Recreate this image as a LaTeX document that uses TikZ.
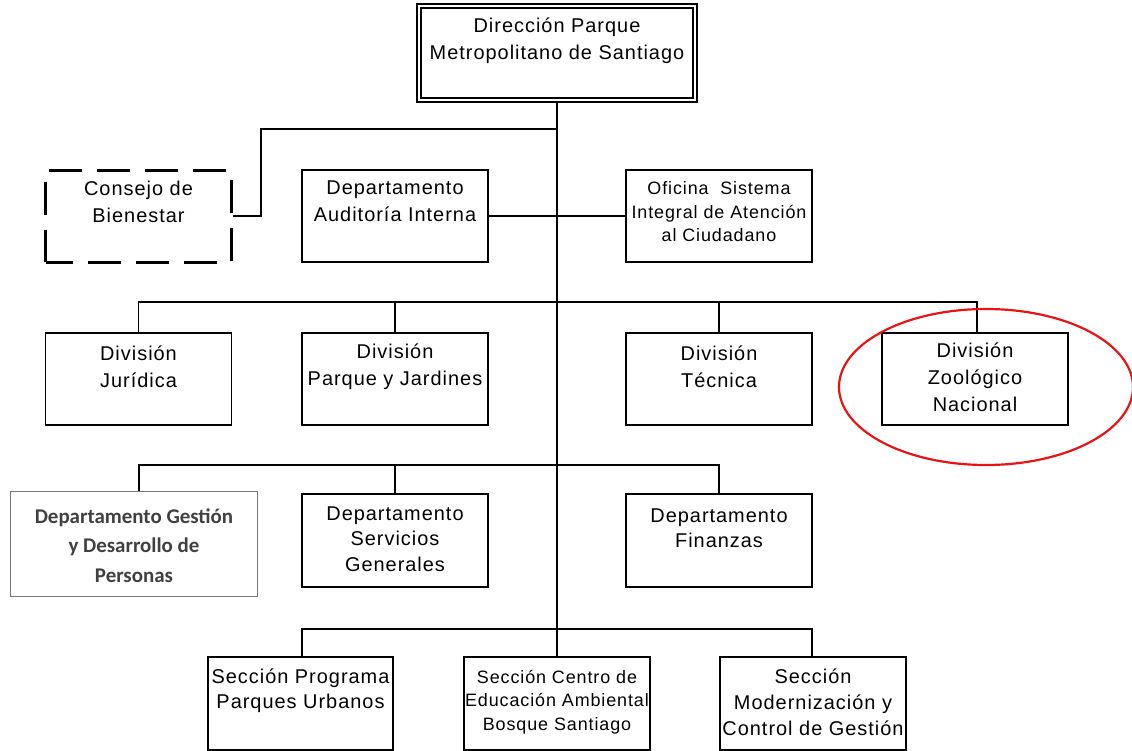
\documentclass[tikz,border=0pt]{standalone}
\usepackage{fontspec}
\setmainfont{Liberation Sans}[LetterSpace=5]
\newfontfamily\carlito{Carlito}
\definecolor{ringred}{RGB}{230,20,20}
\definecolor{gtxt}{RGB}{64,64,64}
\definecolor{gline}{RGB}{120,120,120}
\begin{document}
\begin{tikzpicture}[x=1bp,y=-1bp,
  box/.style={draw, line width=1.3bp, inner sep=0pt, minimum width=186bp, minimum height=92bp},
  dbox/.style={draw, line width=3bp, dash pattern=on 33bp off 15bp, dash phase=6bp, inner sep=0pt, minimum width=185bp, minimum height=92bp},
  txt/.style={align=center, inner sep=0pt, font=\fontsize{20}{27}\selectfont},
  stxt/.style={align=center, inner sep=0pt, font=\fontsize{18}{23.5}\selectfont},
  gtext/.style={align=center, inner sep=0pt, text=gtxt, font=\carlito\bfseries\fontsize{21}{29.5}\selectfont},
  conn/.style={line width=1.3bp}]
\useasboundingbox (0,0) rectangle (1132,751);
% boxes
\node[draw, line width=1.3bp, double, double distance=2.5bp, inner sep=0pt, minimum width=276bp, minimum height=94bp] (top) at (557,53) {};
\node[dbox] (cons) at (138.5,216) {};
\node[box] (aud) at (395,216) {};
\node[box] (ofi) at (719,216) {};
\node[box] (jur) at (138.5,379) {};
\node[box] (par) at (395,379) {};
\node[box] (tec) at (719,379) {};
\node[box] (zoo) at (975,379) {};
\node[draw=gline, line width=1bp, inner sep=0pt, minimum width=246bp, minimum height=105bp] (ges) at (134,543.5) {};
\node[box, minimum height=93bp] (ser) at (395,540.5) {};
\node[box, minimum height=93bp] (fin) at (719,540.5) {};
\node[box, minimum width=185bp, minimum height=93bp] (pro) at (300.5,703.5) {};
\node[box, minimum height=93bp] (cen) at (557,703.5) {};
\node[box, minimum height=93bp] (mod) at (813,703.5) {};
% texts
\node[txt] (ttop) at (557,40.5) {Dirección Parque\\Metropolitano de Santiago};
\node[txt] (tcons) at (138.5,201.5) {Consejo de\\Bienestar};
\node[txt] (taud) at (395,201.5) {Departamento\\Auditoría Interna};
\node[stxt] (tofi) at (719,212) {Oficina\ \ Sistema\\Integral de Atención\\al Ciudadano};
\node[txt] (tjur) at (138.5,366.5) {División\\Jurídica};
\node[txt] (tpar) at (395,366.5) {División\\Parque y Jardines};
\node[txt] (ttec) at (719,366.5) {División\\Técnica};
\node[txt] (tzoo) at (975,377.5) {División\\Zoológico\\Nacional};
\node[gtext] (tges) at (134,545.5) {Departamento Gestión\\y Desarrollo de\\Personas};
\node[txt, font=\fontsize{20}{25.5}\selectfont] (tser) at (395,539) {Departamento\\Servicios\\Generales};
\node[txt, font=\fontsize{20}{25}\selectfont] (tfin) at (719,528.5) {Departamento\\Finanzas};
\node[txt, font=\fontsize{20}{25}\selectfont] (tpro) at (300.5,690.5) {Sección Programa\\Parques Urbanos};
\node[stxt] (tcen) at (557,702) {Sección Centro de\\Educación Ambiental\\Bosque Santiago};
\node[txt, font=\fontsize{20}{26}\selectfont] (tmod) at (813,702) {Sección\\Modernización y\\Control de Gestión};
% junctions
\coordinate (b1) at (557,129);
\coordinate (c1) at (261,129);
\coordinate (b2) at (557,302);
\coordinate (b3) at (557,465);
\coordinate (b4) at (557,629);
% connectors
\draw[conn] (top.south) -- (cen.north);
\draw[conn] (cons.east) -| (c1) -- (b1);
\draw[conn] (aud.east) -- (ofi.west);
\draw[conn] (jur.north) |- (b2) -| ([xshift=2bp]zoo.north);
\draw[conn] (par.north) -- (par.north |- b2);
\draw[conn] (tec.north) -- (tec.north |- b2);
\draw[conn] ([xshift=5bp]ges.north) |- (b3) -| (fin.north);
\draw[conn] (ser.north) -- (ser.north |- b3);
\draw[conn] ([xshift=1.5bp]pro.north) |- (b4) -| ([xshift=-1bp]mod.north);
% highlight ring
\draw[ringred, line width=2.2bp] (986,387) ellipse [x radius=147, y radius=78];
\end{tikzpicture}
\end{document}
